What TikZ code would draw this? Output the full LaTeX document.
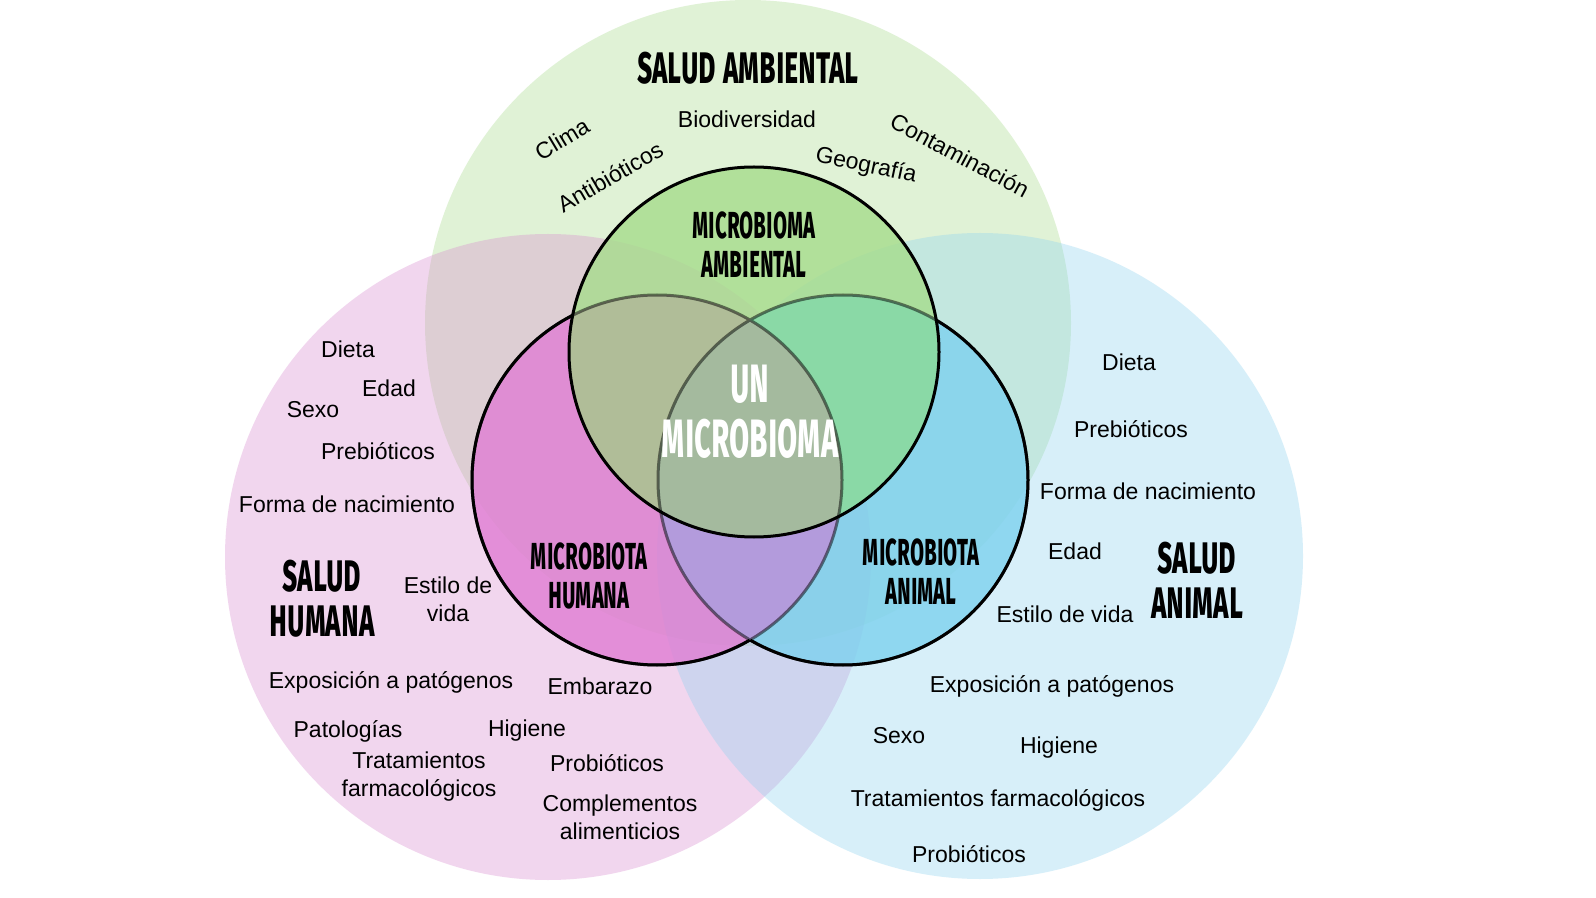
\documentclass[tikz,border=0pt]{standalone}
\usepackage{fontspec}
\setmainfont{Liberation Sans}
\newfontfamily\venntitle[FakeStretch=0.55,Letters={SmallCaps,UppercaseSmallCaps}]{Fira Sans}
\newfontfamily\venncore[FakeStretch=0.5,Letters={SmallCaps,UppercaseSmallCaps}]{Fira Sans}
\usepackage{tikz}
\definecolor{bigG}{HTML}{A8DC8C}
\definecolor{bigP}{HTML}{D98BD0}
\definecolor{bigB}{HTML}{8FD3F0}
\definecolor{smG}{HTML}{A6DC8C}
\definecolor{smP}{HTML}{E07DD3}
\definecolor{smB}{HTML}{7DD1EE}
\definecolor{ovGP}{HTML}{B0BD98}
\definecolor{ovGB}{HTML}{8AD9A6}
\definecolor{ovPB}{HTML}{B39BDC}
\definecolor{ovAll}{HTML}{A4BA9E}

\begin{document}
\begin{tikzpicture}[x=0.5pt,y=-0.5pt,
    item/.style={font=\fontsize{11.5}{14}\selectfont,align=center,inner sep=0pt},
    title/.style={font=\venntitle\bfseries\fontsize{27}{22.5}\selectfont,align=center,inner sep=0pt},
    core/.style={font=\venncore\bfseries\fontsize{23}{19.5}\selectfont,align=center,inner sep=0pt},
    ring/.style={line width=1.5pt}]
\useasboundingbox[fill=white] (0,0) rectangle (1596,898);
\coordinate (GC) at (748,323);
\coordinate (PC) at (548,557);
\coordinate (BC) at (980,556);
\coordinate (gc) at (754,352);
\coordinate (pc) at (657,480);
\coordinate (bc) at (843,480);
\fill[bigG,fill opacity=0.35] (GC) circle[radius=323];
\fill[bigP,fill opacity=0.35] (PC) circle[radius=323];
\fill[bigB,fill opacity=0.35] (BC) circle[radius=323];
\fill[smG,fill opacity=0.8] (gc) circle[radius=185];
\fill[smP,fill opacity=0.8] (pc) circle[radius=185];
\fill[smB,fill opacity=0.8] (bc) circle[radius=185];
\begin{scope}
  \clip (pc) circle[radius=185];
  \fill[ovPB] (bc) circle[radius=185];
\end{scope}
\begin{scope}
  \clip (gc) circle[radius=185];
  \fill[ovGP] (pc) circle[radius=185];
  \fill[ovGB] (bc) circle[radius=185];
  \clip (pc) circle[radius=185];
  \fill[ovAll] (bc) circle[radius=185];
\end{scope}
\draw[ring,black,opacity=0.5] (pc) circle[radius=185] (bc) circle[radius=185];
\begin{scope}[even odd rule]
  \clip (0,0) rectangle (1596,898) (bc) circle[radius=185];
  \clip (0,0) rectangle (1596,898) (gc) circle[radius=185];
  \draw[ring] (pc) circle[radius=185];
\end{scope}
\begin{scope}[even odd rule]
  \clip (0,0) rectangle (1596,898) (pc) circle[radius=185];
  \clip (0,0) rectangle (1596,898) (gc) circle[radius=185];
  \draw[ring] (bc) circle[radius=185];
\end{scope}
\draw[ring] (gc) circle[radius=185];

\node[title](sa) at (748,68) {Salud ambiental};
\node[item](bio) at (747,119) {Biodiversidad};
\node[item,rotate=31](cli) at (562,139) {Clima};
\node[item,rotate=30](ant) at (610,177) {Antibióticos};
\node[item,rotate=-12](geo) at (866,166) {Geografía};
\node[item,rotate=-28](con) at (960,155) {Contaminación};
\node[core](ma) at (754,245) {Microbioma\\ambiental};
\node[core,white,font=\venncore\bfseries\fontsize{33}{27.5}\selectfont](um) at (750,412) {Un\\microbioma};
\node[core](mh) at (589,576) {Microbiota\\humana};
\node[core](man) at (921,572) {Microbiota\\animal};

\node[title](sh) at (322,599) {Salud\\humana};
\node[item](hdie) at (348,349) {Dieta};
\node[item](heda) at (389,388) {Edad};
\node[item](hsex) at (313,410) {Sexo};
\node[item](hpre) at (378,451) {Prebióticos};
\node[item](hfor) at (347,504) {Forma de nacimiento};
\node[item](hest) at (448,599) {Estilo de\\vida};
\node[item](hexp) at (391,682) {Exposición a patógenos};
\node[item](hemb) at (600,686) {Embarazo};
\node[item](hpat) at (348,731) {Patologías};
\node[item](hhig) at (527,731) {Higiene};
\node[item](htra) at (419,777) {Tratamientos\\farmacológicos};
\node[item](hpro) at (607,763) {Probióticos};
\node[item](hcom) at (620,817) {Complementos\\alimenticios};

\node[title](san) at (1197,580) {Salud\\animal};
\node[item](adie) at (1129,362) {Dieta};
\node[item](apre) at (1131,429) {Prebióticos};
\node[item](afor) at (1148,491) {Forma de nacimiento};
\node[item](aeda) at (1075,551) {Edad};
\node[item](aest) at (1065,614) {Estilo de vida};
\node[item](aexp) at (1052,686) {Exposición a patógenos};
\node[item](asex) at (899,736) {Sexo};
\node[item](ahig) at (1059,748) {Higiene};
\node[item](atra) at (998,800) {Tratamientos farmacológicos};
\node[item](apro) at (969,854) {Probióticos};
\end{tikzpicture}
\end{document}
